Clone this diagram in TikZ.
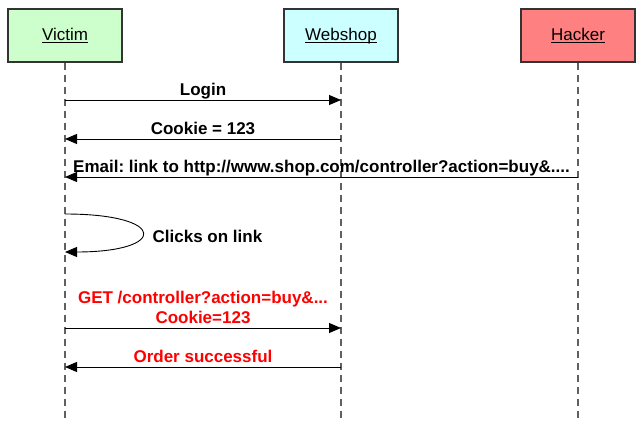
\documentclass[tikz,border=0pt]{standalone}
\usepackage{fontspec}
\setmainfont{Liberation Sans}
\usepackage{xcolor}
\usetikzlibrary{arrows.meta}
\definecolor{victimcolor}{HTML}{ccffcc}
\definecolor{shopcolor}{HTML}{ccffff}
\definecolor{hackercolor}{HTML}{ff8080}
\definecolor{framecolor}{HTML}{333333}
\definecolor{lifecolor}{HTML}{606060}
\newcommand{\actorname}[1]{\underline{\smash{#1}}\vphantom{Victim}}
\frenchspacing

\begin{document}
\begin{tikzpicture}[
        actor/.style = {draw = framecolor, line width = 1.2pt, rectangle, minimum width = 114pt, minimum height = 53pt, font = \fontsize{17}{20}\selectfont},
        lifeline/.style = {draw = lifecolor, line width = 1.3pt, dash pattern = on 7pt off 5pt},
        msg/.style = {-{Triangle[length = 12pt, width = 10pt]}, line width = 0.9pt},
        msgtext/.style = {font = \fontsize{17}{20}\selectfont\bfseries, inner sep = 0pt, anchor = south, text depth = 0pt, yshift = 4.5pt}
    ]
        \useasboundingbox (0pt, 0pt) rectangle (640pt, -438pt);

        \node [actor, fill = victimcolor] (victim) at (65pt, -35.5pt) {\actorname{Victim}};
        \node [actor, fill = shopcolor] (shop) at (341pt, -35.5pt) {\actorname{Webshop}};
        \node [actor, fill = hackercolor] (hacker) at (578pt, -35.5pt) {\actorname{Hacker}};

        % Lifelines
        \coordinate (victimend) at (65pt, -418pt);
        \coordinate (shopend) at (341pt, -418pt);
        \coordinate (hackerend) at (578pt, -418pt);
        \draw [lifeline] (victim.south) -- (victimend);
        \draw [lifeline] (shop.south) -- (shopend);
        \draw [lifeline] (hacker.south) -- (hackerend);

        % Normal session
        \draw [msg] (victim |- 0pt, -100pt) -- node [msgtext] (login) {Login} (shop |- 0pt, -100pt);
        \draw [msg] (shop |- 0pt, -139pt) -- node [msgtext] (cookie) {Cookie = 123} (victim |- 0pt, -139pt);
        \draw [msg] (hacker |- 0pt, -177pt) -- node [msgtext] (email) {Email: link to http://www.shop.com/controller?action=buy\&....} (victim |- 0pt, -177pt);

        % Click
        \draw [msg] (victim |- 0pt, -214pt) .. controls (168pt, -214pt) and (168pt, -252pt) .. node [msgtext, anchor = west, xshift = 10pt, yshift = -8pt] (clicks) {Clicks on link} (victim |- 0pt, -252pt);

        % Forged request
        \draw [msg] (victim |- 0pt, -328pt) -- node [msgtext, align = center, text = red, yshift = -0.5pt] (forged) {GET /controller?action=buy\&...\\Cookie=123} (shop |- 0pt, -328pt);
        \draw [msg] (shop |- 0pt, -367pt) -- node [msgtext, text = red] (order) {Order successful} (victim |- 0pt, -367pt);

    \end{tikzpicture}
\end{document}
